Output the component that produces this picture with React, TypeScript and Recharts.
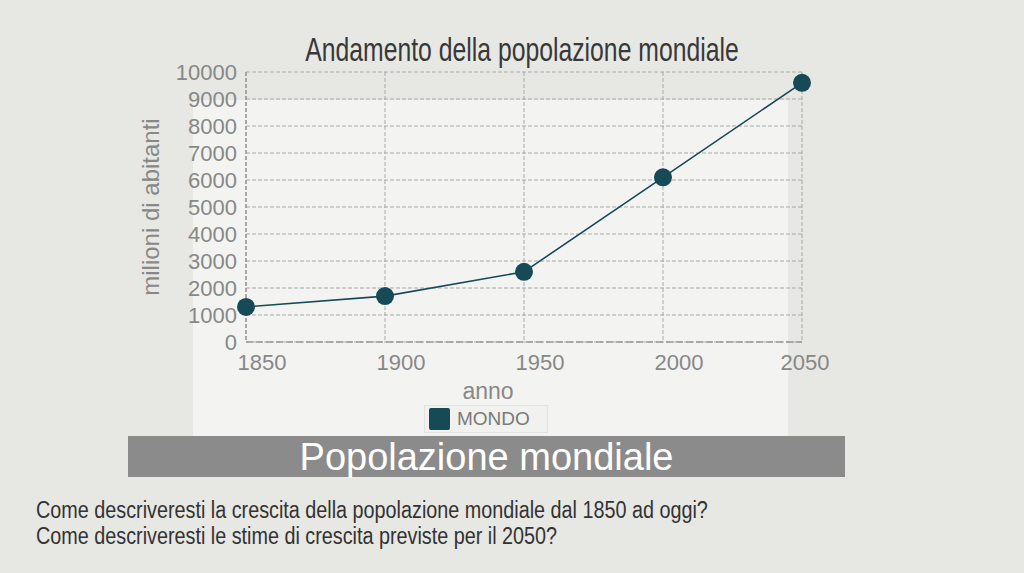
import { LineChart, Line, XAxis, YAxis, CartesianGrid, Legend, Text } from 'recharts';

const anni = [1850, 1900, 1950, 2000, 2050];
const mondo = [1300, 1700, 2600, 6100, 9600];
const yTicks = [0, 1000, 2000, 3000, 4000, 5000, 6000, 7000, 8000, 9000, 10000];
const domande = [
  'Come descriveresti la crescita della popolazione mondiale dal 1850 ad oggi?',
  'Come descriveresti le stime di crescita previste per il 2050?',
];

const data = anni.map((anno, i) => ({ anno, MONDO: mondo[i] }));

const TEAL = '#174a57';
const SANS = "'Liberation Sans', Arial, sans-serif";

const XTick = (props: any) => {
  const { x, y, payload, index } = props;
  const shift = index === anni.length - 1 ? 3 : 16;
  return (
    <Text x={x + shift} y={y} textAnchor="middle" verticalAnchor="start" fill="#888" fontSize={22} fontFamily={SANS}>
      {payload.value}
    </Text>
  );
};

const YTick = (props: any) => {
  const { x, y, payload } = props;
  return (
    <Text x={x} y={y} textAnchor="end" verticalAnchor="middle" fill="#888" fontSize={22} fontFamily={SANS}>
      {payload.value}
    </Text>
  );
};

const AnnoLabel = (props: any) => {
  const vb = props.viewBox || {};
  return (
    <text x={vb.x + vb.width / 2 - 36} y={vb.y + 57} textAnchor="middle" fill="#888" fontSize={23} fontFamily={SANS}>
      anno
    </text>
  );
};

const renderLegend = (props: any) => {
  const { payload = [] } = props;
  return (
    <div style={{ display: 'flex', alignItems: 'center', border: '1px solid #e2e2e0', background: '#f1f1f0', height: 28, boxSizing: 'border-box', padding: '0 4px' }}>
      {payload.map((p: any) => (
        <div key={p.value} style={{ display: 'flex', alignItems: 'center' }}>
          <span style={{ display: 'inline-block', width: 21, height: 22, background: TEAL, borderRadius: 2, marginRight: 7 }} />
          <span style={{ fontFamily: SANS, fontSize: 19, color: '#7a7a7a', paddingRight: 13 }}>{p.value}</span>
        </div>
      ))}
    </div>
  );
};

export default function App() {
  return (
    <div style={{ position: 'absolute', left: 0, top: 0, width: 1024, height: 573, background: '#e7e7e4', overflow: 'hidden' }}>
      <div style={{ position: 'absolute', left: 193, top: 100, width: 595, height: 336, background: '#f3f3f2' }} />
      <div style={{ position: 'absolute', left: 222, top: 33, width: 600, textAlign: 'center', whiteSpace: 'nowrap', fontFamily: SANS, fontSize: 33, lineHeight: '33px', color: '#383838', transform: 'scaleX(0.75)', transformOrigin: '300px 0' }}>
        Andamento della popolazione mondiale
      </div>
      <div style={{ position: 'absolute', left: 0, top: 0 }}>
        <LineChart width={1024} height={573} data={data} margin={{ top: 72, right: 222, bottom: 201, left: 146 }}>
          <CartesianGrid stroke="#a9a9a9" strokeDasharray="4 2" strokeWidth={1} />
          <XAxis
            dataKey="anno"
            type="number"
            domain={[1850, 2050]}
            ticks={anni}
            height={30}
            tickSize={0}
            tickMargin={12}
            tickLine={false}
            axisLine={{ stroke: '#999', strokeDasharray: '7 3', strokeWidth: 1.5 }}
            tick={<XTick />}
            label={<AnnoLabel />}
          />
          <YAxis
            type="number"
            domain={[0, 10000]}
            ticks={yTicks}
            width={100}
            tickSize={0}
            tickMargin={9}
            tickLine={false}
            axisLine={{ stroke: '#999', strokeDasharray: '4 2', strokeWidth: 1.5 }}
            tick={<YTick />}
            label={{ value: 'milioni di abitanti', angle: -90, position: 'insideLeft', offset: 4, fill: '#888', fontSize: 24, fontFamily: SANS, style: { textAnchor: 'middle' } }}
          />
          <Legend
            layout="horizontal"
            align="center"
            verticalAlign="middle"
            content={renderLegend}
            wrapperStyle={{ left: 424, top: 405, width: 'auto' }}
          />
          <Line
            type="linear"
            dataKey="MONDO"
            stroke={TEAL}
            strokeWidth={1.6}
            dot={{ r: 9, fill: TEAL, stroke: 'none' }}
            activeDot={false}
            isAnimationActive={false}
          />
        </LineChart>
      </div>
      <div style={{ position: 'absolute', left: 128, top: 436, width: 717, height: 41, background: '#8b8b8b', color: '#fff', textAlign: 'center', fontFamily: SANS, fontSize: 38, lineHeight: '43px' }}>
        Popolazione mondiale
      </div>
      <div style={{ position: 'absolute', left: 36, top: 497, whiteSpace: 'nowrap', fontFamily: SANS, fontSize: 23, lineHeight: '26px', color: '#333', transform: 'scaleX(0.86)', transformOrigin: '0 0' }}>
        {domande.map((d) => (
          <div key={d}>{d}</div>
        ))}
      </div>
    </div>
  );
}
